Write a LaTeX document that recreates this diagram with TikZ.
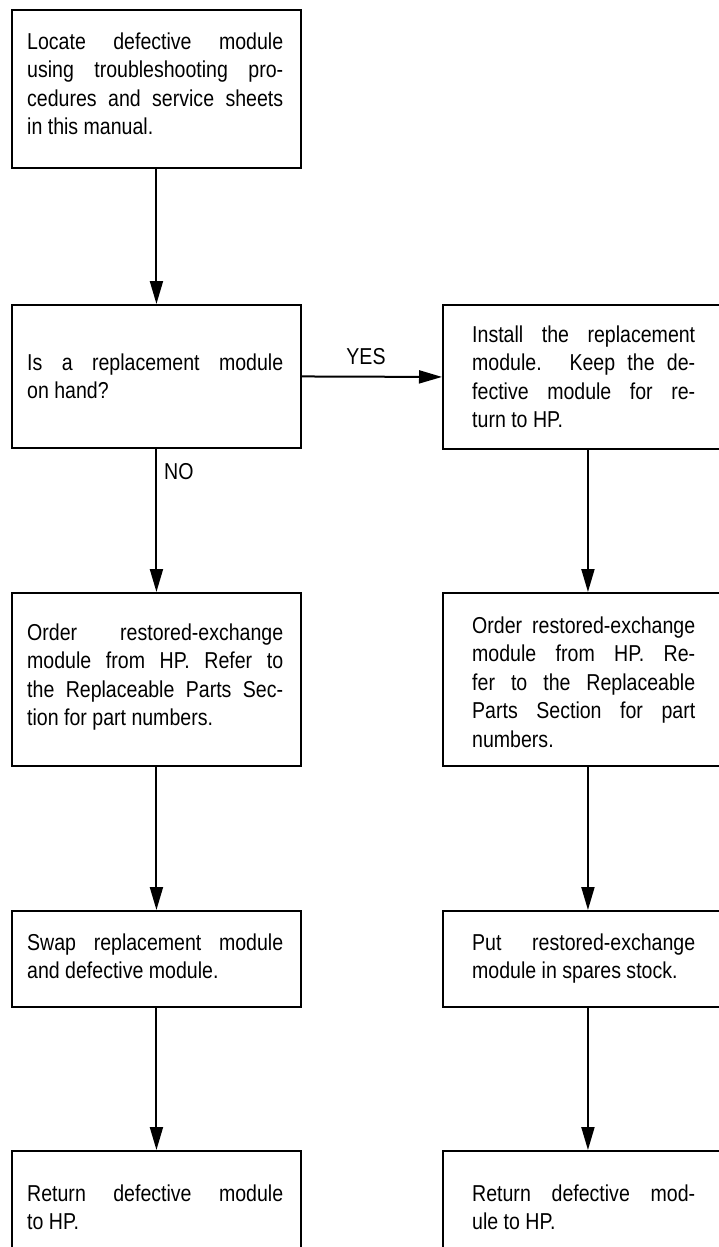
\documentclass[tikz,border=0pt]{standalone}
\usepackage{fontspec}
\setmainfont{Liberation Sans}[FakeStretch=0.85]
\usetikzlibrary{arrows.meta}
\newcommand\J[1]{\makebox[\linewidth][s]{#1}}
\newcommand\btxt[2]{\parbox[t]{#1}{\fontsize{23}{28.5}\selectfont #2}}
\tikzset{
  box/.style={draw, line width=1.9pt, rectangle, inner sep=0pt, anchor=north west},
  txt/.style={anchor=base west, inner sep=0pt},
  lbl/.style={inner sep=0pt, font=\fontsize{23}{28}\selectfont},
  flow/.style={line width=2pt, -{Triangle[length=23pt,width=13pt]}}
}
\begin{document}
\begin{tikzpicture}[x=1pt,y=1pt]
\useasboundingbox (0,0) rectangle (719,-1247);
% left column boxes
\node[box, minimum width=289pt, minimum height=158pt] (b1) at (11,-9) {};
\node[box, minimum width=289pt, minimum height=143pt] (b2) at (11,-304) {};
\node[box, minimum width=289pt, minimum height=173pt] (b3) at (11,-592) {};
\node[box, minimum width=289pt, minimum height=96pt] (b4) at (11,-910) {};
\node[box, minimum width=289pt, minimum height=130pt] (b5) at (11,-1150) {};
% right column boxes
\node[box, minimum width=290pt, minimum height=144pt] (r2) at (442,-304) {};
\node[box, minimum width=290pt, minimum height=173pt] (r3) at (442,-592) {};
\node[box, minimum width=290pt, minimum height=96pt] (r4) at (442,-910) {};
\node[box, minimum width=290pt, minimum height=130pt] (r5) at (442,-1150) {};
% texts left
\node[txt] (t1) at (27,-49) {\btxt{256pt}{\J{Locate defective module}\\\J{using troubleshooting pro-}\\\J{cedures and service sheets}\\in this manual.}};
\node[txt] (t2) at (27,-370) {\btxt{256pt}{\J{Is a replacement module}\\on hand?}};
\node[txt] (t3) at (27,-640) {\btxt{256pt}{\J{Order\ \ restored-exchange}\\\J{module from HP. Refer to}\\\J{the Replaceable Parts Sec-}\\tion for part numbers.}};
\node[txt] (t4) at (27,-950) {\btxt{256pt}{\J{Swap replacement module}\\and defective module.}};
\node[txt] (t5) at (27,-1201) {\btxt{256pt}{\J{Return defective module}\\to HP.}};
% texts right
\node[txt] (s2) at (472,-342) {\btxt{223pt}{\J{Install the replacement}\\\J{module. Keep the de-}\\\J{fective module for re-}\\turn to HP.}};
\node[txt] (s3) at (472,-633) {\btxt{223pt}{\J{Order restored-exchange}\\\J{module from HP. Re-}\\\J{fer to the Replaceable}\\\J{Parts Section for part}\\numbers.}};
\node[txt] (s4) at (472,-950) {\btxt{223pt}{\J{Put\ \ restored-exchange}\\module in spares stock.}};
\node[txt] (s5) at (472,-1201) {\btxt{223pt}{\J{Return defective mod-}\\ule to HP.}};
% connectors
\draw[flow] (b1.south) -- (b2.north);
\draw[flow] (b2.south) -- (b3.north);
\draw[flow] (b3.south) -- (b4.north);
\draw[flow] (b4.south) -- (b5.north);
\draw[flow] (r2.south) -- (r3.north);
\draw[flow] (r3.south) -- (r4.north);
\draw[flow] (r4.south) -- (r5.north);
\draw[flow] (b2.east) -- (r2.west);
% labels
\node[lbl] (yes) at (366,-357) {YES};
\node[lbl, anchor=west] (no) at (164,-472) {NO};
\end{tikzpicture}
\end{document}
